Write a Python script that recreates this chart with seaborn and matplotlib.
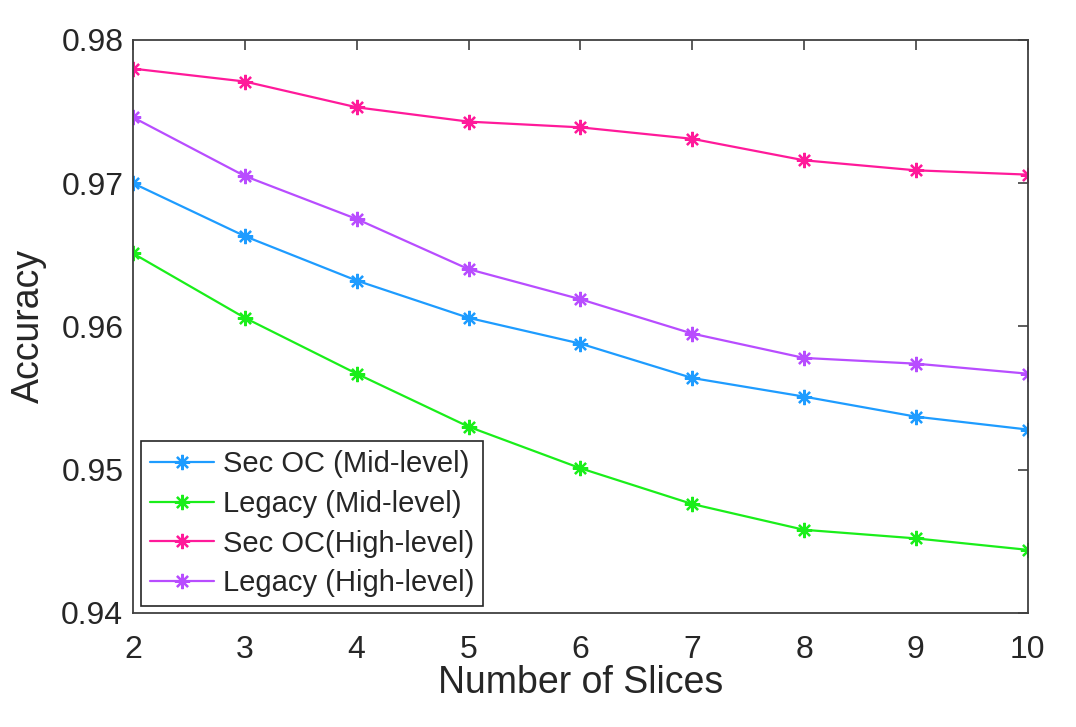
import matplotlib
matplotlib.use("Agg")
import matplotlib.pyplot as plt
import seaborn as sns
import pandas as pd

slices = [2, 3, 4, 5, 6, 7, 8, 9, 10]
sec_mid = [0.9700, 0.9663, 0.9632, 0.9606, 0.9588, 0.9564, 0.9551, 0.9537, 0.9528]
legacy_mid = [0.9651, 0.9606, 0.9567, 0.9530, 0.9501, 0.9476, 0.9458, 0.9452, 0.9444]
sec_high = [0.9780, 0.9771, 0.9753, 0.9743, 0.9739, 0.9731, 0.9716, 0.9709, 0.9706]
legacy_high = [0.9746, 0.9705, 0.9675, 0.9640, 0.9619, 0.9595, 0.9578, 0.9574, 0.9567]
labels = ["Sec OC (Mid-level)", "Legacy (Mid-level)", "Sec OC(High-level)", "Legacy (High-level)"]
colors = ["#1e9cff", "#1aee1a", "#ff1a9a", "#b84dff"]
x_ticks = [2, 3, 4, 5, 6, 7, 8, 9, 10]
y_ticks = [0.94, 0.95, 0.96, 0.97, 0.98]
y_tick_labels = ["0.94", "0.95", "0.96", "0.97", "0.98"]

sns.set_theme(style="white")
plt.rcParams["font.family"] = ["Liberation Sans", "DejaVu Sans"]

fig = plt.figure(figsize=(10.76, 7.27), dpi=100)
ax = fig.add_axes([0.1236, 0.157, 0.8315, 0.788])

for lab, vals, col in zip(labels, [sec_mid, legacy_mid, sec_high, legacy_high], colors):
    d = pd.DataFrame({"Slices": slices, "Accuracy": vals})
    sns.lineplot(data=d, x="Slices", y="Accuracy", color=col, label=lab,
                 marker=(8, 2, 0), markersize=11, markeredgewidth=1.6,
                 markeredgecolor=col, markerfacecolor=col, linewidth=1.6, ax=ax)

ax.set_xlim(2, 10)
ax.set_ylim(0.94, 0.98)
ax.set_xticks(x_ticks)
ax.set_xticklabels([str(t) for t in x_ticks])
ax.set_yticks(y_ticks)
ax.set_yticklabels(y_tick_labels)
ax.tick_params(axis="both", direction="in", length=7, width=1.2, color="#404040",
               labelsize=23, labelcolor="#262626", top=True, right=True)
ax.tick_params(axis="x", pad=16)
ax.tick_params(axis="y", pad=7)
for sp in ax.spines.values():
    sp.set_visible(True)
    sp.set_color("#404040")
    sp.set_linewidth(1.3)

ax.set_xlabel("Number of Slices", fontsize=27, color="#262626", labelpad=0)
ax.set_ylabel("Accuracy", fontsize=27, color="#262626", labelpad=10)

leg = ax.legend(loc="lower left", bbox_to_anchor=(0.009, 0.012), borderaxespad=0,
                fontsize=21, frameon=True, fancybox=False, framealpha=1,
                edgecolor="#262626", handlelength=2.2, labelspacing=0.4,
                borderpad=0.3, handletextpad=0.3)
leg.get_frame().set_linewidth(1.2)

fig.savefig("out.png", dpi=100)
